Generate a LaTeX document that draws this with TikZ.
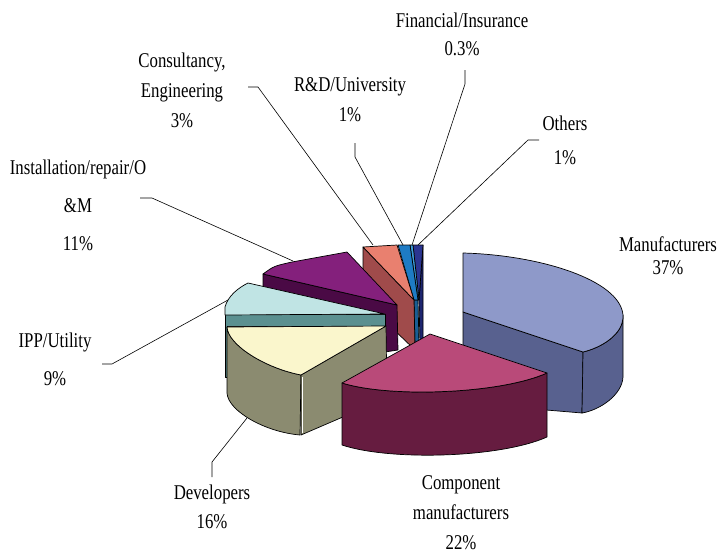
\documentclass[tikz,border=0pt]{standalone}
\usepackage{fontspec}
\setmainfont{Liberation Serif}[FakeStretch=0.8]
\definecolor{mantop}{HTML}{8E99C9}
\definecolor{manside}{HTML}{58618F}
\definecolor{comtop}{HTML}{B94A79}
\definecolor{comside}{HTML}{661C40}
\definecolor{devtop}{HTML}{FAF6CC}
\definecolor{devside}{HTML}{8B8B70}
\definecolor{ipptop}{HTML}{C0E4E4}
\definecolor{ippside}{HTML}{5B9090}
\definecolor{insttop}{HTML}{84207C}
\definecolor{instside}{HTML}{4A0A45}
\definecolor{constop}{HTML}{E9806F}
\definecolor{consside}{HTML}{A04B4B}
\definecolor{rdtop}{HTML}{1E7BC4}
\definecolor{rdside}{HTML}{1A5E93}
\definecolor{fintop}{HTML}{3C9AD8}
\definecolor{othtop}{HTML}{2B3591}
\definecolor{othside}{HTML}{1D2570}
\begin{document}
\begin{tikzpicture}[x=1pt,y=-1pt,
  slice/.style={draw=black,line width=0.7pt,line join=round},
  leader/.style={draw=black,line width=0.6pt},
  lbl/.style={align=center,inner sep=0pt}]
\useasboundingbox[fill=white] (0,0) rectangle (719,554);
% Others
\filldraw[slice,fill=othside] (423,245) -- (423,345) -- (420,345) -- (419,300) -- cycle;
\filldraw[slice,fill=othtop] (413,245) -- (423,245) -- (419,300) -- cycle;
% Financial
\filldraw[slice,fill=fintop] (410,245) -- (413,245) -- (419,300) -- (418,300) -- cycle;
% R&D
\filldraw[slice,fill=rdside] (414,300) -- (418,300) -- (419,345) -- (415,345) -- cycle;
\filldraw[slice,fill=rdtop] (398,245) -- (410,245) -- (418,300) -- (414,300) -- cycle;
% Consultancy
\filldraw[slice,fill=consside] (363,247) -- (414,300) -- (415,350) -- (363,300) -- cycle;
\filldraw[slice,fill=constop] (363,247) -- (397,245) -- (414,300) -- cycle;
% Installation
\filldraw[slice,fill=instside] (263,274) -- (397,305) -- (398,350) -- (385,352) -- (263,300) -- cycle;
\filldraw[slice,fill=insttop] (263,274) .. controls (274,266) .. (292,262) -- (347,252) -- (397,305) -- cycle;
% IPP/Utility
\filldraw[slice,fill=ippside] (225,314) -- (385,314) -- (385,326) -- (227,326) -- (227,377) -- (225,377) -- cycle;
\filldraw[slice,fill=ipptop] (225,315) -- (225,307) .. controls (228,296) and (238,288) .. (248,283) -- (385,314) -- cycle;
% Developers
\filldraw[slice,fill=devside] (227,327) -- (227,393) .. controls (228,411) and (265,432) .. (300,435) -- (301,375) .. controls (265,368) and (228,345) .. (227,327) -- cycle;
\filldraw[slice,fill=devside] (301,375) -- (386,326) -- (387,398) -- (301,435) -- cycle;
\filldraw[slice,fill=devtop] (227,327) -- (386,326) -- (301,375) .. controls (265,368) and (228,345) .. (227,327) -- cycle;
\draw[white,line width=0.8pt] (302,377) -- (302,433);
% Manufacturers
\filldraw[slice,fill=manside] (463,312) -- (583,352) -- (582,413) -- (463,403) -- cycle;
\filldraw[slice,fill=manside] (583,352) .. controls (600,348) and (624,335) .. (623,315) -- (623,377) .. controls (622,395) and (600,410) .. (582,413) -- cycle;
\filldraw[slice,fill=mantop] (463,312) -- (463,253) .. controls (540,255) and (620,280) .. (623,315) .. controls (624,335) and (600,348) .. (583,352) -- cycle;
% Component manufacturers
\filldraw[slice,fill=comside] (342,383) -- (342,445) .. controls (390,461) and (500,458) .. (547,437) -- (547,373) .. controls (500,394) and (390,398) .. (342,383) -- cycle;
\filldraw[slice,fill=comtop] (430,334) -- (547,373) .. controls (500,394) and (390,398) .. (342,383) -- cycle;
% leader coordinates
\coordinate (pFin) at (412,245);
\coordinate (pRD) at (403,245);
\coordinate (pCons) at (373,245);
\coordinate (pOth) at (418,245);
\coordinate (pInst) at (293,261);
\coordinate (pIPP) at (228,300);
\coordinate (pDev) at (247,418);
% labels
\node[lbl,font=\fontsize{21}{28}\selectfont] (lFin) at (462,34) {Financial/Insurance\\0.3\%};
\node[lbl,font=\fontsize{21}{30}\selectfont] (lRD) at (350,100) {R\&D/University\\1\%};
\node[lbl,font=\fontsize{21}{30}\selectfont] (lCons) at (182,90) {Consultancy,\\Engineering\\3\%};
\node[lbl,font=\fontsize{21}{34}\selectfont] (lOth) at (565,140) {Others\\1\%};
\node[lbl,font=\fontsize{21}{38}\selectfont] (lInst) at (78,205) {Installation/repair/O\\\&M\\11\%};
\node[lbl,font=\fontsize{21}{38}\selectfont] (lIPP) at (55,359) {IPP/Utility\\9\%};
\node[lbl,font=\fontsize{21}{29}\selectfont] (lDev) at (212,507) {Developers\\16\%};
\node[lbl,font=\fontsize{21}{30}\selectfont] (lCom) at (461,513) {Component\\manufacturers\\22\%};
\node[lbl,font=\fontsize{21}{23}\selectfont] (lMan) at (668,256) {Manufacturers\\37\%};
% leaders
\draw[leader] (465,70) -- (465,84) -- (pFin);
\draw[leader] (355,143) -- (355,157) -- (pRD);
\draw[leader] (248,87) -- (258,87) -- (pCons);
\draw[leader] (539,140) -- (528,140) -- (pOth);
\draw[leader] (140,198) -- (152,198) -- (pInst);
\draw[leader] (102,364) -- (112,364) -- (pIPP);
\draw[leader] (212,477) -- (212,462) -- (pDev);
\end{tikzpicture}
\end{document}
